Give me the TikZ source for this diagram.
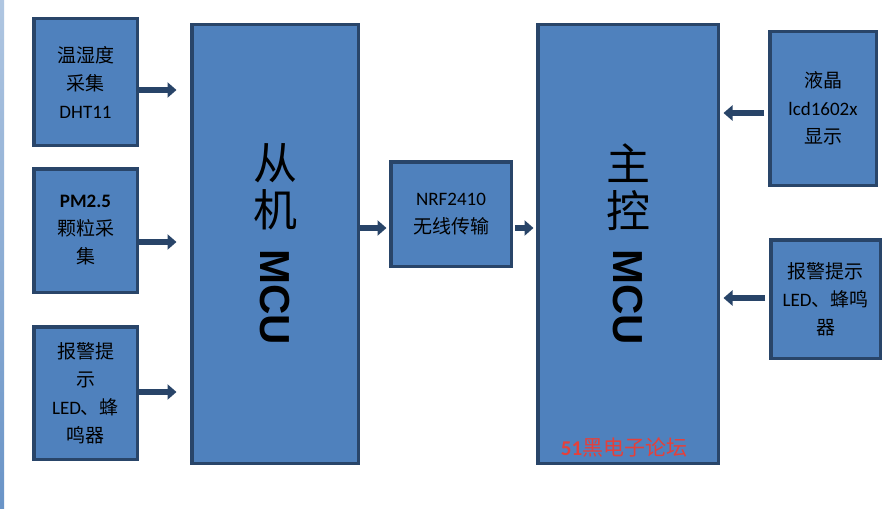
\documentclass[tikz,border=0pt]{standalone}
\usepackage{fontspec}
\setmainfont{Carlito}
\setsansfont{Liberation Sans}
\newfontfamily\cjk{Noto Sans CJK SC}
\usetikzlibrary{arrows.meta,positioning}
\definecolor{boxfill}{HTML}{4F81BD}
\definecolor{boxline}{HTML}{294569}
\definecolor{arrcol}{HTML}{284468}
\definecolor{logored}{HTML}{E5403A}
\newcommand{\zh}[1]{{\cjk #1}}

\begin{document}
\begin{tikzpicture}[x=1pt,y=-1pt,
      every node/.style={font=\fontsize{19}{28}\selectfont},
      box/.style={draw=boxline,fill=boxfill,line width=3.5pt,align=center,inner sep=0pt},
      arr/.style={draw=arrcol,line width=5.5pt,-{Triangle[length=9pt,width=15pt]}},
      big/.style={font=\cjk\fontsize{44}{47}\selectfont,align=center},
      mcu/.style={font=\sffamily\bfseries\fontsize{42}{42}\selectfont,rotate=-90},
    ]
      \fill[white] (0,0) rectangle (890,508);
      \useasboundingbox (0,0) rectangle (890,508);
      \fill[top color=boxfill!45,bottom color=boxfill!85] (0,0) rectangle (4,508);

      \node[box,minimum width=103.5pt,minimum height=126.5pt] (dht) at (85.5,82)
        {\zh{温湿度}\\\zh{采集}\\DHT11};
      \node[box,minimum width=103.5pt,minimum height=123.5pt] (pm) at (85.5,230.5)
        {\textbf{PM2.5}\\\zh{颗粒采}\\\zh{集}};
      \node[box,minimum width=103.5pt,minimum height=132.5pt] (alarml) at (85.5,393)
        {\zh{报警提}\\\zh{示}\\LED\zh{、蜂}\\\zh{鸣器}};
      \node[box,minimum width=166.5pt,minimum height=438.5pt] (slave) at (275,244) {};
      \node[box,minimum width=120.5pt,minimum height=104.5pt] (nrf) at (451,214)
        {NRF2410\\\zh{无线传输}};
      \node[box,minimum width=180.5pt,minimum height=438.5pt] (master) at (628,244) {};
      \node[box,minimum width=106.5pt,minimum height=153.5pt] (lcd) at (823,108.5)
        {\zh{液晶}\\lcd1602x\\\zh{显示}};
      \node[box,minimum width=109.5pt,minimum height=118.5pt] (alarmr) at (825.5,299)
        {\zh{报警提示}\\LED\zh{、蜂鸣}\\\zh{器}};

      \node[big] (slavezh) at ([yshift=-164pt]slave.north) {从\\机};
      \node[mcu] (slavemcu) at ([yshift=-274pt]slave.north) {MCU};
      \node[big] (masterzh) at ([yshift=-164pt]master.north) {主\\控};
      \node[mcu] (mastermcu) at ([yshift=-274pt]master.north) {MCU};
      \node[text=logored,font=\fontsize{21}{21}\selectfont] (logo)
        at ([xshift=-4pt,yshift=17pt]master.south) {\textbf{51}\zh{黑电子论坛}};

      \draw[arr,shorten >=13.5pt] (dht.east |- 0,90) -- (slave.west |- 0,90);
      \draw[arr,shorten >=13.5pt] (pm.east |- 0,242) -- (slave.west |- 0,242);
      \draw[arr,shorten >=13.5pt] (alarml.east |- 0,392) -- (slave.west |- 0,392);
      \draw[arr,shorten >=2.5pt] (slave.east |- 0,228) -- (nrf.west |- 0,228);
      \draw[arr,shorten <=2pt,shorten >=2.5pt] (nrf.east |- 0,228) -- (master.west |- 0,228);
      \draw[arr,shorten <=4pt,shorten >=3.5pt] (lcd.west |- 0,113) -- (master.east |- 0,113);
      \draw[arr,shorten <=4pt,shorten >=3.5pt] (alarmr.west |- 0,298) -- (master.east |- 0,298);
    \end{tikzpicture}
\end{document}
